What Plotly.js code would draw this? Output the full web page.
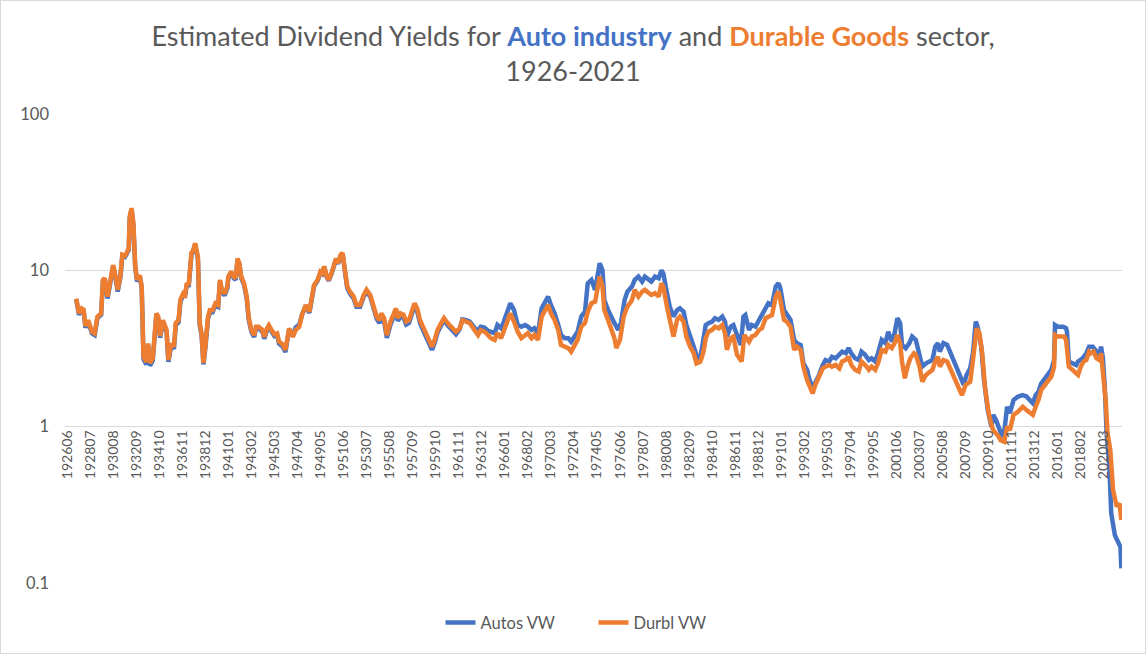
<!DOCTYPE html>
<html>
<head>
<meta charset="utf-8">
<script src="https://cdn.plot.ly/plotly-3.0.1.min.js"></script>
<style>
  html, body { margin: 0; padding: 0; background: #fff; }
  #wrap { position: relative; width: 1146px; height: 654px; }
  #chart { width: 1146px; height: 654px; }
  #frame { position: absolute; left: 0; top: 0; width: 1146px; height: 654px; box-sizing: border-box; border: 1px solid #D9D9D9; pointer-events: none; }
</style>
</head>
<body>
<div id="wrap"><div id="chart"></div><div id="frame"></div></div>
<script>
// Category tick labels (every 25 months)
const tickLabels = ['192606','192807','193008','193209','193410','193611','193812','194101','194302','194503',
  '194704','194905','195106','195307','195508','195709','195910','196111','196312','196601',
  '196802','197003','197204','197405','197606','197807','198008','198209','198410','198611',
  '198812','199101','199302','199503','199704','199905','200106','200307','200508','200709',
  '200910','201111','201312','201601','201802','202003'];

// Durbl VW (orange) – months (YYYYMM) and estimated dividend yield (%)
const durblMonths = ['192704','192705','192707','192710','192712','192802','192805','192809','192812','192903',
 '192907','192909','192911','193002','193005','193008','193010','193101','193104','193106',
 '193109','193111','193201','193202','193204','193206','193208','193210','193301','193303',
 '193305','193308','193310','193312','193403','193407','193409','193411','193502','193506',
 '193508','193511','193602','193604','193607','193609','193612','193702','193704','193706',
 '193709','193711','193801','193804','193806','193808','193810','193812','193903','193905',
 '193908','193911','194002','194004','194006','194009','194012','194101','194104','194107',
 '194109','194111','194201','194203','194206','194209','194211','194302','194305','194307',
 '194310','194402','194404','194407','194409','194412','194503','194506','194508','194512',
 '194603','194607','194611','194702','194706','194709','194801','194805','194808','194810',
 '194902','194905','194907','194909','194912','195002','195005','195008','195010','195012',
 '195103','195105','195107','195110','195201','195205','195208','195212','195304','195307',
 '195311','195402','195406','195409','195411','195502','195505','195509','195512','195603',
 '195605','195608','195611','195702','195705','195711','195802','195805','195809','195901',
 '195906','195909','195912','196004','196007','196011','196103','196108','196112','196203',
 '196207','196211','196304','196308','196311','196403','196407','196410','196502','196505',
 '196509','196512','196604','196607','196611','196703','196707','196711','196802','196806',
 '196809','196901','196905','196908','196912','197003','197007','197011','197102','197106',
 '197110','197201','197205','197208','197212','197304','197307','197311','197403','197406',
 '197408','197411','197501','197505','197508','197512','197602','197606','197610','197702',
 '197707','197710','197802','197806','197809','197901','197904','197908','197912','198003',
 '198005','198009','198012','198104','198108','198111','198203','198206','198210','198302',
 '198305','198309','198311','198401','198403','198406','198410','198501','198505','198509',
 '198512','198602','198606','198609','198701','198706','198709','198802','198805','198809',
 '198901','198904','198908','198911','199003','199007','199010','199012','199104','199107',
 '199111','199203','199206','199210','199301','199305','199307','199311','199402','199406',
 '199410','199501','199505','199508','199512','199604','199607','199611','199702','199705',
 '199709','199801','199804','199808','199812','199903','199907','199910','200002','200006',
 '200009','200101','200104','200107','200110','200112','200203','200206','200209','200301',
 '200303','200307','200310','200402','200406','200409','200412','200503','200505','200509',
 '200601','200604','200608','200611','200703','200705','200709','200802','200805','200809',
 '200812','200903','200906','200910','201002','201004','201008','201011','201103','201106',
 '201109','201201','201206','201211','201303','201307','201310','201401','201404','201407',
 '201411','201502','201506','201509','201510','201601','201605','201608','201610','201701',
 '201705','201709','201711','201802','201805','201808','201811','201901','201904','201907',
 '201910','201912','202002','202005','202007','202010','202101','202105','202108','202110'];
const durblVW = [6.6,6.0,5.3,5.7,5.6,4.4,4.8,4.05,3.95,5.05,
 5.3,8.7,8.9,6.8,8.7,10.8,9.6,7.5,9.3,12.6,
 12.4,13.2,13.8,22,25,20,10.6,8.7,9.3,7.9,
 2.8,2.6,3.4,2.55,2.75,5.3,5.05,3.8,4.8,4.15,
 2.67,3.4,3.25,4.6,4.8,6.5,7.1,6.95,8.3,8.05,
 12.9,13.5,14.9,12.2,4.6,3.95,2.55,3.25,5.05,5.55,
 5.55,6.15,6.0,8.7,7.5,7.1,7.9,9.1,9.8,9.1,
 8.9,11.9,11.1,9.1,8.3,6.8,5.05,4.15,3.85,4.35,
 4.35,4.15,3.75,4.25,4.45,4.15,3.9,3.95,3.5,3.35,
 3.1,4.25,3.75,4.15,4.35,5.2,6.0,5.45,6.8,8.05,
 8.7,9.8,9.6,10.6,9.1,8.7,9.6,11.1,11.9,11.1,
 12.6,12.9,10.3,7.9,7.3,6.8,6.0,6.0,6.95,7.5,
 6.95,6.0,5.05,4.8,5.3,4.95,3.85,4.7,5.2,5.7,
 4.95,5.3,5.2,4.7,4.8,6.15,5.7,4.8,4.25,3.7,
 3.25,3.6,4.15,4.6,4.95,4.6,4.35,4.05,4.25,4.8,
 4.7,4.6,4.15,3.85,4.15,4.05,3.85,3.68,3.59,3.96,
 3.68,4.16,4.7,5.31,4.7,4.05,3.68,3.86,3.96,3.68,
 3.86,3.59,5.06,5.44,6.0,5.31,4.82,4.16,3.33,3.25,
 3.18,3.02,3.33,3.59,4.36,4.59,5.44,6.16,6.3,8.27,
 9.12,7.87,5.57,4.82,4.36,3.68,3.18,3.59,5.06,5.85,
 6.46,7.5,6.79,7.31,7.5,7.14,6.96,7.14,6.79,8.27,
 7.87,5.85,4.94,3.77,4.82,5.06,4.7,3.77,3.25,2.95,
 2.54,2.6,2.8,3.1,3.68,4.05,4.16,4.36,4.26,4.47,
 3.96,3.1,3.68,3.77,2.88,2.61,3.86,3.5,3.77,3.86,
 4.16,4.26,4.94,5.06,5.18,6.79,7.31,6.46,4.82,4.7,
 4.36,3.1,3.25,3.1,2.42,1.99,1.85,1.63,1.85,2.09,
 2.36,2.42,2.48,2.42,2.48,2.36,2.61,2.67,2.8,2.48,
 2.31,2.25,2.61,2.48,2.31,2.42,2.31,2.54,3.1,3.02,
 3.33,3.18,3.42,3.86,3.42,2.61,2.04,2.42,2.74,2.95,
 2.88,2.42,1.94,2.14,2.25,2.31,2.61,2.8,2.42,2.67,
 2.61,2.36,2.09,1.89,1.67,1.59,1.85,1.94,2.67,4.26,
 3.96,2.95,1.8,1.22,0.98,0.93,0.88,0.82,0.80,1.0,
 0.95,1.19,1.25,1.34,1.28,1.22,1.19,1.34,1.48,1.72,
 1.85,1.99,2.09,2.42,3.86,3.77,3.77,3.77,3.59,2.42,
 2.31,2.19,2.14,2.42,2.61,2.67,3.02,2.95,3.02,2.74,
 2.67,2.95,2.31,1.48,0.91,0.71,0.394,0.308,0.323,0.253];

// Autos VW (blue) – months (YYYYMM) and estimated dividend yield (%)
const autosMonths = ['192704','192705','192707','192710','192712','192802','192805','192809','192812','192903',
 '192907','192909','192911','193002','193005','193008','193010','193101','193104','193106',
 '193109','193111','193201','193202','193204','193206','193208','193210','193301','193303',
 '193305','193308','193310','193312','193403','193407','193409','193411','193502','193506',
 '193508','193511','193602','193604','193607','193609','193612','193702','193704','193706',
 '193709','193711','193801','193804','193806','193808','193810','193812','193903','193905',
 '193908','193911','194002','194004','194006','194009','194012','194101','194104','194107',
 '194109','194111','194201','194203','194206','194209','194211','194302','194305','194307',
 '194310','194402','194404','194407','194409','194412','194503','194506','194508','194512',
 '194603','194607','194611','194702','194706','194709','194801','194805','194808','194810',
 '194902','194905','194907','194909','194912','195002','195005','195008','195010','195012',
 '195103','195105','195107','195110','195201','195205','195208','195212','195304','195307',
 '195311','195402','195406','195409','195411','195502','195505','195509','195512','195603',
 '195605','195608','195611','195702','195705','195711','195802','195805','195809','195901',
 '195906','195909','195912','196004','196007','196011','196103','196108','196112','196203',
 '196207','196211','196304','196308','196311','196403','196407','196410','196502','196505',
 '196509','196512','196604','196607','196611','196703','196707','196711','196802','196806',
 '196809','196901','196905','196908','196912','197003','197007','197011','197102','197106',
 '197110','197201','197205','197208','197212','197304','197307','197311','197403','197406',
 '197408','197411','197501','197505','197508','197512','197604','197607','197611','197702',
 '197707','197710','197802','197806','197809','197901','197904','197908','197912','198003',
 '198005','198009','198012','198104','198108','198111','198203','198206','198210','198302',
 '198305','198309','198311','198401','198403','198406','198410','198501','198505','198509',
 '198512','198602','198606','198609','198701','198705','198708','198710','198802','198805',
 '198809','198901','198904','198908','198911','199003','199007','199010','199012','199104',
 '199107','199111','199203','199206','199210','199301','199305','199307','199311','199402',
 '199406','199410','199501','199505','199508','199512','199604','199607','199611','199702',
 '199705','199709','199801','199804','199808','199812','199903','199907','199910','200002',
 '200006','200009','200101','200104','200107','200110','200112','200204','200208','200211',
 '200303','200307','200310','200402','200406','200409','200412','200503','200505','200509',
 '200601','200604','200608','200611','200703','200707','200710','200802','200805','200808',
 '200810','200902','200905','200909','201001','201003','201006','201010','201101','201103',
 '201106','201109','201201','201206','201211','201303','201307','201310','201401','201404',
 '201407','201411','201502','201506','201509','201510','201601','201604','201607','201610',
 '201611','201701','201705','201709','201711','201802','201804','201808','201811','201903',
 '201907','201910','201912','202002','202004','202006','202009','202011','202103','202107',
 '202109','202110'];
const autosVW = [6.5,5.9,5.2,5.6,5.5,4.3,4.7,3.95,3.85,4.95,
 5.2,8.5,8.7,6.6,8.5,10.6,9.4,7.3,9.1,12.4,
 12.2,13.0,13.5,21.5,24.5,19.5,10.4,8.5,9.1,7.7,
 2.7,2.5,3.3,2.45,2.65,5.2,4.9,3.7,4.7,4.05,
 2.6,3.3,3.15,4.45,4.65,6.3,6.9,6.75,8.1,7.85,
 12.6,13.2,14.6,11.9,4.45,3.85,2.5,3.15,4.9,5.4,
 5.4,6.0,5.85,8.5,7.3,6.9,7.7,8.9,9.6,8.9,
 8.7,11.6,10.9,8.9,8.1,6.6,4.9,4.05,3.75,4.25,
 4.25,4.05,3.65,4.15,4.35,4.05,3.8,3.85,3.4,3.25,
 3.0,4.2,3.8,4.3,4.5,5.2,5.9,5.35,6.7,7.9,
 8.6,9.7,9.5,10.5,9.0,8.6,9.5,11.0,11.8,11.0,
 12.4,12.7,10.1,7.7,7.1,6.6,5.85,5.85,6.8,7.3,
 6.8,5.85,4.9,4.6,5.1,4.75,3.7,4.5,5.0,5.5,
 4.75,5.1,5.0,4.5,4.6,5.9,5.45,4.6,4.05,3.55,
 3.1,3.45,4.0,4.45,4.8,4.45,4.2,3.9,4.2,4.85,
 4.8,4.7,4.3,4.1,4.35,4.3,4.1,4.05,3.96,4.47,
 4.26,4.7,5.44,6.16,5.57,4.47,4.36,4.47,4.36,4.16,
 4.26,3.96,5.72,6.16,6.79,6.0,5.31,4.47,3.86,3.68,
 3.68,3.5,3.77,4.05,5.06,5.44,8.27,8.68,7.5,10.0,
 11.1,10.0,6.46,5.57,5.06,4.59,4.16,4.59,6.46,7.31,
 7.87,8.68,9.12,8.48,9.12,8.68,8.48,9.12,8.9,10.0,
 9.58,7.14,5.85,5.06,5.57,5.72,5.44,4.47,3.77,3.18,
 2.88,2.7,3.2,3.6,4.47,4.59,4.7,4.94,4.82,5.06,
 4.7,3.77,4.36,4.47,3.86,3.33,5.06,5.18,4.16,4.47,
 4.36,4.82,5.06,5.72,6.16,6.0,7.87,8.27,7.67,5.57,
 5.18,4.82,3.59,3.42,3.33,2.54,2.31,2.05,1.76,1.89,
 2.14,2.48,2.67,2.61,2.8,2.74,2.88,3.02,2.95,3.18,
 2.95,2.74,2.67,3.02,2.88,2.67,2.74,2.61,2.95,3.59,
 3.42,4.05,3.5,3.96,4.94,4.59,3.33,3.18,3.42,3.77,
 3.59,2.88,2.42,2.54,2.61,2.67,3.25,3.42,3.02,3.42,
 3.33,3.02,2.61,2.36,2.14,1.85,2.14,2.36,2.95,4.7,
 4.36,3.25,1.99,1.28,1.0,1.19,1.1,0.93,0.86,0.93,
 1.34,1.22,1.48,1.56,1.59,1.56,1.45,1.41,1.59,1.67,
 1.89,2.04,2.14,2.31,2.67,4.47,4.36,4.36,4.36,4.26,
 4.05,2.61,2.54,2.48,2.61,2.67,2.74,2.95,3.25,3.25,
 3.02,2.88,3.25,2.74,1.8,0.91,0.555,0.279,0.202,0.179,
 0.17,0.124];

const BLUE = '#4472C4', ORANGE = '#ED7D31', TXT = '#595959', GRID = '#D9D9D9';
const FONT = 'Lato, "Open Sans", "Liberation Sans", sans-serif';

function monthIndex(s) {
  const y = parseInt(s.slice(0, 4), 10), m = parseInt(s.slice(4, 6), 10);
  return (y - 1926) * 12 + (m - 6);
}

const traces = [
  { x: autosMonths.map(monthIndex), y: autosVW, name: 'Autos VW', type: 'scatter', mode: 'lines',
    line: { color: BLUE, width: 4.5 }, hoverinfo: 'skip' },
  { x: durblMonths.map(monthIndex), y: durblVW, name: 'Durbl VW', type: 'scatter', mode: 'lines',
    line: { color: ORANGE, width: 4.5 }, hoverinfo: 'skip' }
];

const layout = {
  width: 1146, height: 654,
  margin: { l: 65, r: 24, t: 114, b: 71 },
  paper_bgcolor: '#ffffff', plot_bgcolor: '#ffffff',
  font: { family: FONT, color: TXT, size: 14 },
  title: {
    text: 'Estimated Dividend Yields for <b><span style="color:' + BLUE + '">Auto industry</span></b> and <b><span style="color:' + ORANGE + '">Durable Goods</span></b> sector,<br>1926-2021',
    x: 0.5, xanchor: 'center', xref: 'container',
    y: 1 - 46 / 654, yanchor: 'top', yref: 'container',
    font: { family: FONT, size: 27, color: TXT }
  },
  xaxis: {
    range: [-2.2, 1144.7],
    tickmode: 'array', tickvals: tickLabels.map(monthIndex), ticktext: tickLabels,
    tickangle: -90, ticks: '', showgrid: false, zeroline: false, showline: false,
    anchor: 'free', position: 1 / 3,
    tickfont: { family: FONT, size: 14, color: TXT }
  },
  yaxis: {
    type: 'log', range: [-1, 2],
    tickmode: 'array', tickvals: [0.1, 1, 10, 100], ticktext: ['0.1', '1', '10', '100'],
    showgrid: true, gridcolor: GRID, gridwidth: 1, showline: false, zeroline: false, ticks: '',
    ticklabelstandoff: 15,
    tickfont: { family: FONT, size: 16.5, color: TXT }
  },
  showlegend: true,
  legend: {
    orientation: 'h', x: 0.5, xanchor: 'center', y: -0.085, yanchor: 'middle',
    entrywidth: 108,
    font: { family: FONT, size: 16.5, color: TXT }, bgcolor: 'rgba(0,0,0,0)'
  }
};

Plotly.newPlot('chart', traces, layout, { displayModeBar: false, staticPlot: true });
</script>
</body>
</html>
